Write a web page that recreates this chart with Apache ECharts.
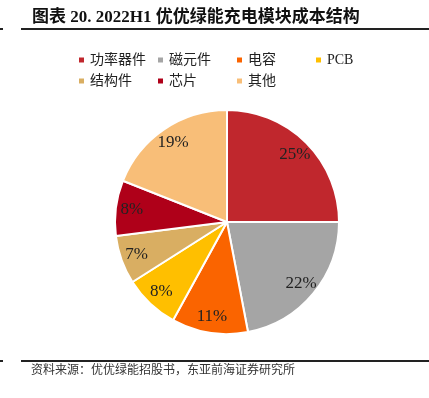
<!DOCTYPE html>
<html>
<head>
<meta charset="utf-8">
<script src="https://cdn.jsdelivr.net/npm/echarts@6/dist/echarts.min.js"></script>
<style>
  html, body { margin: 0; padding: 0; background: #fff; }
  #chart { width: 429px; height: 398px; }
</style>
</head>
<body>
<div id="chart"></div>
<script>
// 成本结构（%）
const names = ['功率器件', '磁元件', '电容', 'PCB', '结构件', '芯片', '其他'];
const shares = [25, 22, 11, 8, 7, 8, 19];
const colors = ['#C0272D', '#A5A5A5', '#FA6400', '#FFBF00', '#D9AE62', '#AF0019', '#F8BE78'];

const serif = "'Liberation Serif', 'Noto Sans CJK SC', serif";

const pieData = names.map((n, i) => ({ name: n, value: shares[i], itemStyle: { color: colors[i] } }));

const legendBase = {
  left: 77,
  padding: 0,
  orient: 'horizontal',
  icon: 'rect',
  itemWidth: 7,
  itemHeight: 7,
  itemGap: 7,
  selectedMode: false,
  textStyle: { fontFamily: serif, fontSize: 14, color: '#222', width: 59, lineHeight: 14 }
};

const chart = echarts.init(document.getElementById('chart'));
chart.setOption({
  animation: false,
  title: {
    text: '图表 20. 2022H1 优优绿能充电模块成本结构',
    left: 32,
    top: 9,
    padding: 0,
    textStyle: { fontFamily: serif, fontSize: 17, fontWeight: 'bold', color: '#111' }
  },
  legend: [
    Object.assign({ top: 53, data: names.slice(0, 4) }, legendBase),
    Object.assign({ top: 74, data: names.slice(4) }, legendBase)
  ],
  graphic: [
    { type: 'line', shape: { x1: 21, y1: 29, x2: 429, y2: 29 }, style: { stroke: '#222', lineWidth: 2 } },
    { type: 'line', shape: { x1: 0, y1: 29, x2: 3, y2: 29 }, style: { stroke: '#222', lineWidth: 2 } },
    { type: 'line', shape: { x1: 21, y1: 361, x2: 429, y2: 361 }, style: { stroke: '#222', lineWidth: 2 } },
    { type: 'line', shape: { x1: 0, y1: 361, x2: 3, y2: 361 }, style: { stroke: '#222', lineWidth: 2 } },
    {
      type: 'text', left: 31, top: 365,
      style: { text: '资料来源：优优绿能招股书，东亚前海证券研究所', fontFamily: serif, fontSize: 12, fill: '#333' }
    }
  ],
  series: [
    {
      type: 'pie',
      center: [227, 222],
      radius: [0, 112],
      startAngle: 90,
      clockwise: true,
      silent: true,
      itemStyle: { borderColor: '#fff', borderWidth: 2 },
      label: { show: false },
      labelLine: { show: false },
      data: pieData
    },
    {
      // 透明外环，仅用于放置标签
      type: 'pie',
      center: [227, 222],
      radius: [74, 112],
      startAngle: 90,
      clockwise: true,
      silent: true,
      itemStyle: { color: 'rgba(0,0,0,0)' },
      label: {
        show: true,
        position: 'inside',
        formatter: '{c}%',
        fontFamily: serif,
        fontSize: 17,
        color: '#222'
      },
      labelLine: { show: false },
      data: names.map((n, i) => ({ name: n, value: shares[i] }))
    }
  ]
});
</script>
</body>
</html>
